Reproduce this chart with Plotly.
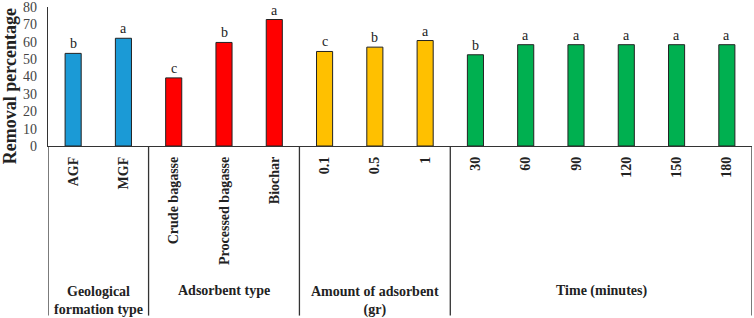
import plotly.graph_objects as go

categories = ["AGF", "MGF", "Crude bagasse", "Processed bagasse", "Biochar",
              "0.1", "0.5", "1", "30", "60", "90", "120", "150", "180"]
values = [53.3, 62.0, 39.2, 59.6, 72.8, 54.4, 56.9, 60.7, 52.5, 58.3, 58.3, 58.3, 58.3, 58.3]
letters = ["b", "a", "c", "b", "a", "c", "b", "a", "b", "a", "a", "a", "a", "a"]
groups = ["Geological<br>formation type", "Adsorbent type", "Amount of adsorbent<br>(gr)", "Time (minutes)"]
group_sizes = [2, 3, 3, 6]
group_colors = ["#1B9AD6", "#FF0000", "#FFC000", "#00B050"]
y_title = "Removal percentage"

bar_colors = []
for c, n in zip(group_colors, group_sizes):
    bar_colors += [c] * n

positions = list(range(len(categories)))
FONT = "Liberation Serif"

fig = go.Figure()
fig.add_trace(go.Bar(
    x=positions, y=values,
    marker=dict(color=bar_colors, line=dict(color="#222222", width=1)),
    width=0.32,
))

for p, v, l in zip(positions, values, letters):
    fig.add_annotation(x=p, y=v, text=l, showarrow=False, xref="x", yref="y",
                       yanchor="bottom", yshift=0,
                       font=dict(family=FONT, size=14, color="#222222"))

# group separators and labels
start = 0
bounds = [-0.5]
for g, n in zip(groups, group_sizes):
    end = start + n
    bounds.append(end - 0.5)
    mid = (start + end - 1) / 2
    fig.add_annotation(x=mid, y=-1.04, xref="x", yref="paper", text=f"<b>{g}</b>",
                       showarrow=False, yanchor="middle" if "<br>" not in g else "top",
                       yshift=0 if "<br>" not in g else 9,
                       font=dict(family=FONT, size=14, color="#222222"))
    start = end

for b in bounds:
    fig.add_shape(type="line", xref="x", yref="paper", x0=b, x1=b, y0=0, y1=-1.22,
                  line=dict(color="#333333", width=1.3))

# y-axis title as annotation (positioned slightly below plot centre as in reference)
fig.add_annotation(x=0, xref="paper", xanchor="center", xshift=-38,
                   y=0.43, yref="paper", yanchor="middle",
                   text=f"<b>{y_title}</b>", textangle=-90, showarrow=False,
                   font=dict(family=FONT, size=18, color="#222222"))

fig.update_layout(
    width=754, height=318,
    margin=dict(l=48, r=2, t=7, b=172, autoexpand=False),
    plot_bgcolor="white", paper_bgcolor="white",
    showlegend=False,
    xaxis=dict(range=[-0.5, 13.5], tickangle=-90, automargin=False,
               tickvals=positions, ticktext=[f"<b>{c}</b>" for c in categories],
               showline=True, linecolor="#333333", linewidth=1.3,
               ticks="", showgrid=False, zeroline=False,
               tickfont=dict(family=FONT, size=14, color="#222222"),
               ticklabelstandoff=4),
    yaxis=dict(range=[0, 80], dtick=10, showgrid=False, zeroline=False, automargin=False,
               showline=True, linecolor="#333333", linewidth=1.3, ticks="",
               ticklabelstandoff=7, ticklabeloverflow="allow",
               tickfont=dict(family=FONT, size=14, color="#444444")),
)

fig.write_html("out.html", config={"displayModeBar": False},
               post_script="document.body.style.margin='0';document.body.style.overflow='hidden';")
